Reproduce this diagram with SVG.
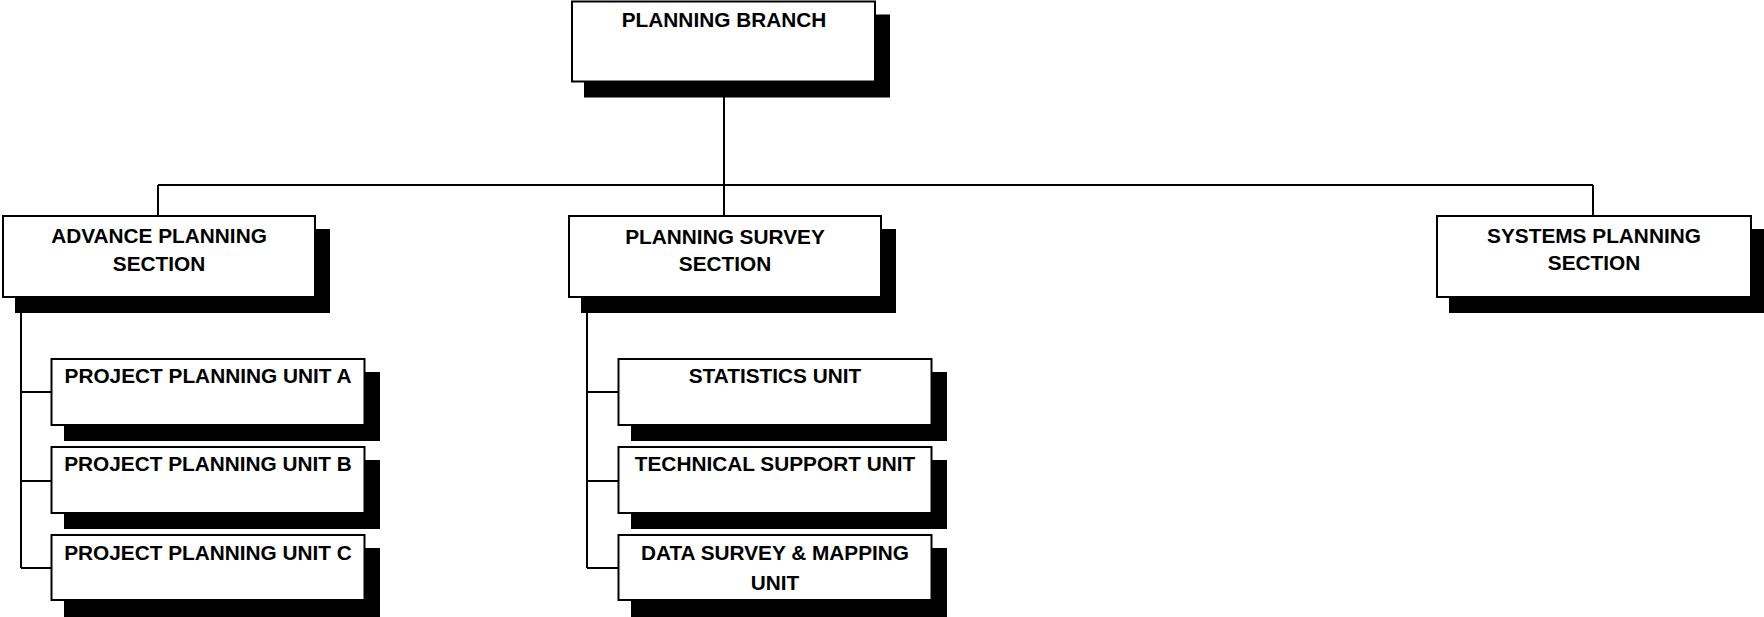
<svg xmlns="http://www.w3.org/2000/svg" width="1764" height="617" viewBox="0 0 1764 617">
<style>
.box{fill:#fff;stroke:#000;stroke-width:2}
.sh{fill:#000}
.t{font-family:"Liberation Sans",Arial,sans-serif;font-weight:bold;font-size:20.8px;text-anchor:middle;fill:#000}
.c{fill:none;stroke:#000;stroke-width:2}
</style>
<rect width="1764" height="617" fill="#fff"/>
<g id="connectors">
<path class="c" d="M724 82V185M158 185H1593M158 185V216M724 185V216M1593 185V216"/>
<path class="c" d="M21 297V568M21 392H51M21 481H51M21 568H51"/>
<path class="c" d="M587 297V568M587 392H618M587 481H618M587 568H618"/>
</g>
<g id="planning-branch">
<rect class="sh" x="584" y="14.5" width="306" height="83"/>
<rect class="box" x="572" y="1.5" width="303" height="80"/>
<text class="t" x="724" y="27">PLANNING BRANCH</text>
</g>
<g id="advance-planning">
<rect class="sh" x="15" y="229" width="315" height="84"/>
<rect class="box" x="3" y="216" width="312" height="81"/>
<text class="t" x="159" y="243">ADVANCE PLANNING</text>
<text class="t" x="159" y="271">SECTION</text>
</g>
<g id="planning-survey">
<rect class="sh" x="581" y="229" width="315" height="84"/>
<rect class="box" x="569" y="216" width="312" height="81"/>
<text class="t" x="725" y="244">PLANNING SURVEY</text>
<text class="t" x="725" y="271">SECTION</text>
</g>
<g id="systems-planning">
<rect class="sh" x="1449" y="229" width="317" height="84"/>
<rect class="box" x="1437" y="216" width="314" height="81"/>
<text class="t" x="1594" y="243">SYSTEMS PLANNING</text>
<text class="t" x="1594" y="270">SECTION</text>
</g>
<g id="unit-a">
<rect class="sh" x="64" y="372" width="316" height="69"/>
<rect class="box" x="51.5" y="359" width="313" height="66"/>
<text class="t" x="208" y="383">PROJECT PLANNING UNIT A</text>
</g>
<g id="unit-b">
<rect class="sh" x="64" y="460" width="316" height="69"/>
<rect class="box" x="51.5" y="447" width="313" height="66"/>
<text class="t" x="208" y="471">PROJECT PLANNING UNIT B</text>
</g>
<g id="unit-c">
<rect class="sh" x="64" y="548" width="316" height="69"/>
<rect class="box" x="51.5" y="535" width="313" height="65"/>
<text class="t" x="208" y="560">PROJECT PLANNING UNIT C</text>
</g>
<g id="statistics-unit">
<rect class="sh" x="631" y="372" width="316" height="69"/>
<rect class="box" x="618.5" y="359" width="313" height="66"/>
<text class="t" x="775" y="383">STATISTICS UNIT</text>
</g>
<g id="technical-support-unit">
<rect class="sh" x="631" y="460" width="316" height="69"/>
<rect class="box" x="618.5" y="447" width="313" height="66"/>
<text class="t" x="775" y="471">TECHNICAL SUPPORT UNIT</text>
</g>
<g id="data-survey-unit">
<rect class="sh" x="631" y="548" width="316" height="69"/>
<rect class="box" x="618.5" y="535" width="313" height="65"/>
<text class="t" x="775" y="560">DATA SURVEY &amp; MAPPING</text>
<text class="t" x="775" y="590">UNIT</text>
</g>
</svg>
